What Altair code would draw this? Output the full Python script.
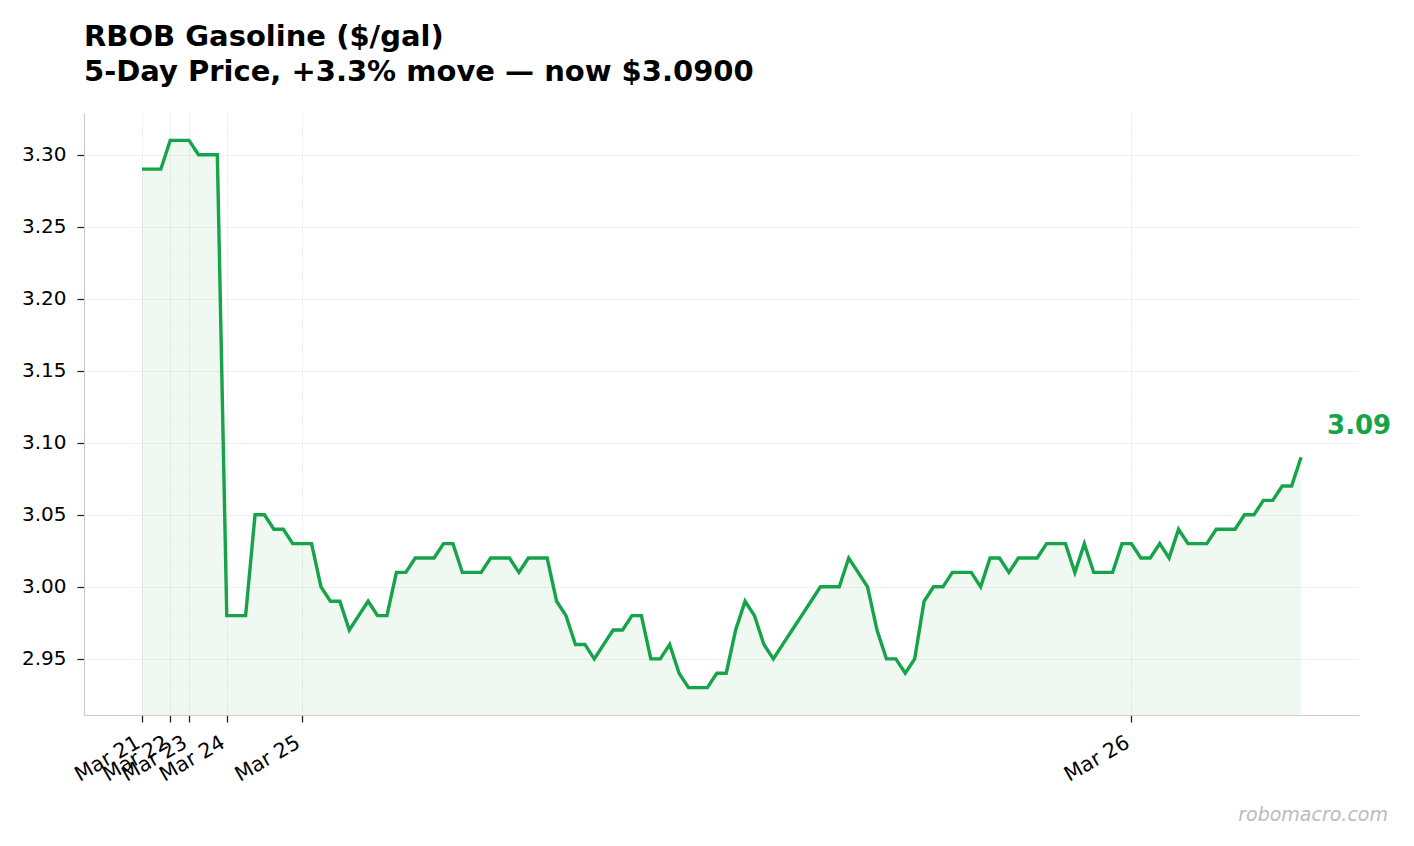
import altair as alt
import pandas as pd

TITLE_1 = "RBOB Gasoline ($/gal)"
TITLE_2 = "5-Day Price, +3.3% move — now $3.0900"

PRICES = [
    3.29, 3.29, 3.29, 3.31, 3.31, 3.31, 3.30, 3.30, 3.30, 2.98,
    2.98, 2.98, 3.05, 3.05, 3.04, 3.04, 3.03, 3.03, 3.03, 3.00,
    2.99, 2.99, 2.97, 2.98, 2.99, 2.98, 2.98, 3.01, 3.01, 3.02,
    3.02, 3.02, 3.03, 3.03, 3.01, 3.01, 3.01, 3.02, 3.02, 3.02,
    3.01, 3.02, 3.02, 3.02, 2.99, 2.98, 2.96, 2.96, 2.95, 2.96,
    2.97, 2.97, 2.98, 2.98, 2.95, 2.95, 2.96, 2.94, 2.93, 2.93,
    2.93, 2.94, 2.94, 2.97, 2.99, 2.98, 2.96, 2.95, 2.96, 2.97,
    2.98, 2.99, 3.00, 3.00, 3.00, 3.02, 3.01, 3.00, 2.97, 2.95,
    2.95, 2.94, 2.95, 2.99, 3.00, 3.00, 3.01, 3.01, 3.01, 3.00,
    3.02, 3.02, 3.01, 3.02, 3.02, 3.02, 3.03, 3.03, 3.03, 3.01,
    3.03, 3.01, 3.01, 3.01, 3.03, 3.03, 3.02, 3.02, 3.03, 3.02,
    3.04, 3.03, 3.03, 3.03, 3.04, 3.04, 3.04, 3.05, 3.05, 3.06,
    3.06, 3.07, 3.07, 3.09,
]
TICK_IDX = [0, 3, 5, 9, 17, 105]
TICK_LABELS = ["Mar 21", "Mar 22", "Mar 23", "Mar 24", "Mar 25", "Mar 26"]
Y_TICKS = [2.95, 3.00, 3.05, 3.10, 3.15, 3.20, 3.25, 3.30]
LAST_LABEL = "3.09"
WATERMARK = "robomacro.com"

GREEN = "#16a34a"
W, H = 1275, 602
n = len(PRICES)
span = n - 1
X_DOM = [-0.05 * span, span * 1.05]
lo, hi = min(PRICES), max(PRICES)
Y_DOM = [lo - 0.05 * (hi - lo), hi + 0.05 * (hi - lo)]

df = pd.DataFrame({"i": list(range(n)), "price": PRICES})
last = pd.DataFrame({"i": [n - 1], "price": [PRICES[-1]], "lab": [LAST_LABEL]})

label_map = "{" + ",".join(f"'{i}':'{l}'" for i, l in zip(TICK_IDX, TICK_LABELS)) + "}"

xs = alt.Scale(domain=X_DOM, nice=False, zero=False)
ys = alt.Scale(domain=Y_DOM, nice=False, zero=False)

x_enc = alt.X(
    "i:Q", scale=xs, title=None,
    axis=alt.Axis(
        values=TICK_IDX,
        labelExpr=f"{label_map}[datum.value + '']",
        labelAngle=-30, labelAlign="right", labelBaseline="top",
        labelFontSize=20.5, labelColor="#000000", labelFont="DejaVu Sans",
        labelPadding=10, labelOffset=-9, tickSize=7, tickColor="#222222", tickWidth=1.3,
        domainColor="#cccccc", domainWidth=1.2,
        grid=True, gridColor="#cccccc", gridDash=[1, 2], gridWidth=0.8,
        labelOverlap=False, labelBound=False, labelFlush=False,
    ),
)
y_enc = alt.Y(
    "price:Q", scale=ys, title=None,
    axis=alt.Axis(
        values=Y_TICKS, format=".2f",
        labelFontSize=20, labelColor="#000000", labelFont="DejaVu Sans",
        labelPadding=11, tickSize=7, tickColor="#222222", tickWidth=1.3,
        domainColor="#cccccc", domainWidth=1.2,
        grid=True, gridColor="#eeeeee", gridWidth=0.8,
        labelOverlap=False,
    ),
)

area = alt.Chart(df).mark_area(color=GREEN, opacity=0.07).encode(
    x=x_enc, y=y_enc, y2=alt.datum(Y_DOM[0])
)
line = alt.Chart(df).mark_line(color=GREEN, strokeWidth=3.4, strokeJoin="miter").encode(
    x="i:Q", y="price:Q"
)
lab = alt.Chart(last).mark_text(
    color=GREEN, fontSize=26, fontWeight="bold", font="DejaVu Sans",
    align="left", baseline="alphabetic", dx=26, dy=-23,
).encode(x="i:Q", y="price:Q", text="lab:N")
wm = alt.Chart(pd.DataFrame({"t": [WATERMARK]})).mark_text(
    color="#bbbbbb", fontSize=19, fontStyle="italic", font="DejaVu Sans",
    align="right", baseline="alphabetic",
).encode(x=alt.value(W + 29), y=alt.value(H + 106), text="t:N")

chart = (
    alt.layer(area, line, lab, wm)
    .properties(
        width=W, height=H,
        background="white",
        title=alt.TitleParams(
            text=[TITLE_1, TITLE_2], anchor="start", frame="group", fontSize=29,
            font="DejaVu Sans", fontWeight="bold", color="#000000",
            lineHeight=35, offset=26,
        ),
        autosize=alt.AutoSizeParams(type="none"),
        padding={"left": 76, "top": 105, "right": 47, "bottom": 123},
    )
    .configure_view(strokeWidth=0, stroke="transparent")
)

chart.save("out.html", embed_options={"renderer": "svg", "actions": False})
